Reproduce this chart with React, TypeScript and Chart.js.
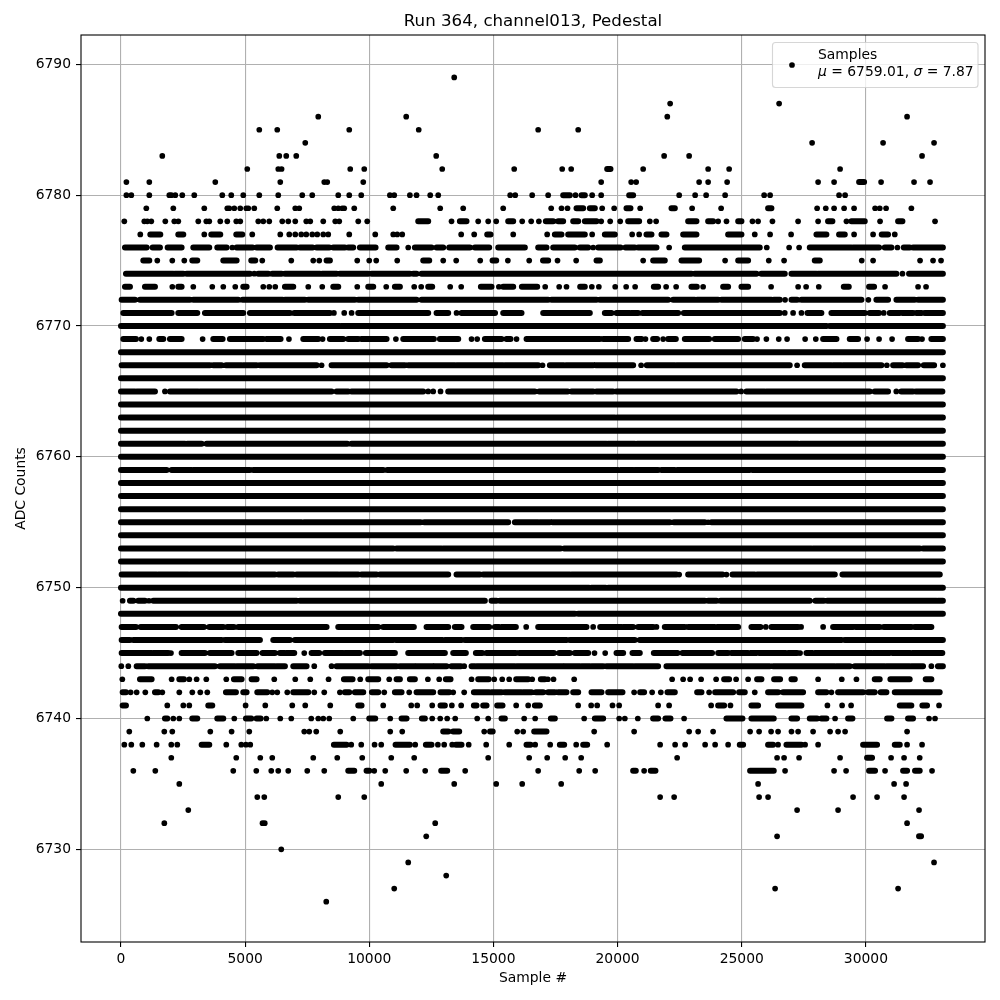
import React, { useEffect, useRef } from "react";
import { Chart, registerables } from "chart.js";

Chart.register(...registerables);

type Entry = number | [number, number];
const FULL: Entry[] = [[0, 33100]];

const xTicks = [0, 5000, 10000, 15000, 20000, 25000, 30000];
const yTicks = [6730, 6740, 6750, 6760, 6770, 6780, 6790];

const l6726: Entry[] = [8267];
const l6727: Entry[] = [11004, 26343, 31296];
const l6728: Entry[] = [13098];
const l6729: Entry[] = [11568, 32744];
const l6730: Entry[] = [6455];
const l6731: Entry[] = [12293, 26423, [32140, 32220]];
const l6732: Entry[] = [1745, 5700, 5790, 12655, 31658];
const l6733: Entry[] = [2711, 27229, 28879, 32140];
const l6734: Entry[] = [5489, 5771, 8750, 9797, 21713, 22277, 25699, 26060, 29483, 30449, 31537];
const l6735: Entry[] = [2349, 10481, 13420, 15111, 16158, 17728, 25658, 31135, 31618];
const l6736: Entry[] = [497, 1382, 4522, 5449, 6052, 6334, 6737, 7502, 8186, [9153, 9394], [9890, 9998], 10199, 10642, 11487, 12252, [12896, 13138], 13862, 16801, 18453, 19097, [20626, 20733], 21068, [21337, 21525], [25336, 26289], 26745, 28718, 29202, [30127, 30368], 30772, [31497, 31658], [31978, 32167], 32663];
const l6737: Entry[] = [2026, 4643, 5610, 6093, 7743, 8710, 9716, 10884, 11809, 14789, 16439, 17164, 17889, 18533, 22398, 26423, 26705, 27309, 28960, [30046, 30247], 31014, 31537, 32167];
const l6738: Entry[] = [134, 416, 859, 1436, 2026, 2268, [3248, 3556], 4241, 4845, 5032, 5207, [8575, 9085], 9273, 9676, 10213, 10481, [11058, 11635], 11850, [12279, 12507], 12762, 13017, 13339, [13487, 13715], 14004, 14708, 15635, [16332, 16493], 16681, 17285, [17674, 17849], 18332, [18614, 18775], 19580, 21713, 22317, 22720, 23525, 23928, 24451, [24920, 25055], [26060, 26262], 26463, [26800, 27403], 27551, 28075, [29887, 30449], [31162, 31363], 31658, 32261];
const l6739: Entry[] = [335, 1745, 2067, 3597, 4455, 5167, 7381, 7582, 7864, 8830, 10843, 11327, [12977, 13178], [13379, 13621], 14628, [14863, 14970], 15957, 16198, [16641, 17137], 19057, 20666, 22881, 23244, 23847, 25336, 25699, 26182, 26463, 27002, 27270, 27873, 28557, 28879, 29162, 31658];
const l6740: Entry[] = [1060, [1771, 1865], 2107, 2349, [2872, 3073], [3878, 4120], 4563, [5032, 5247], [5462, 5623], 5851, 6415, 6858, 7663, 7945, 8146, 8387, 9354, [9998, 10240], 10843, [11300, 11501], [12118, 12239], 12534, 12856, 13137, 13460, 14346, 14789, [15326, 15460], 16238, 16681, [17312, 17473], 18654, [19084, 19419], 20063, 20291, 20814, [21430, 21632], [21928, 22130], 22679, [24384, 25028], [25390, 26289], [27002, 27229], [27739, 28035], [28208, 28409], 28759, [29282, 29457], [30854, 31028], [31696, 31897], 32542, 32784];
const l6741: Entry[] = [[67, 201], 1865, 2510, 2751, [3516, 3677], 5019, 5811, 6898, 7421, 8428, [9555, 9689], 10561, 11689, 11930, 12534, [12869, 13044], 13325, 13701, [14212, 14319], [14587, 14722], [15151, 15366], 15916, 16399, [16668, 16869], 18412, 18936, 19178, 19795, 20063, 21632, 22075, 23767, [24049, 24290], 24545, [25390, 25658], [26463, 27403], 28450, 29041, 29404, [31363, 31830], [32274, 32462], 32945];
const l6742: Entry[] = [[67, 201], 389, 631, 980, [1369, 1503], 1664, 2349, 2872, 3194, 3476, [4227, 4630], [4925, 5059], [5489, 5891], 6093, 6294, 6697, [6938, 7542], 7784, 8186, 8817, [9018, 9193], [9421, 9757], [10105, 10360], 10602, [11031, 11300], 11608, [11903, 12574], [12869, 13218], 13379, 13822, [14212, 14829], [14923, 15326], [15460, 16131], [16198, 16533], [16708, 17003], [17204, 17473], [17607, 17942], [18211, 18413], [18949, 19352], [19620, 20197], 20666, [20908, 21068], 21391, 21740, [22008, 22304], [23203, 23378], 23686, [23928, 24652], [24893, 25122], 25524, [26060, 26463], [26665, 27470], [28075, 28409], 28611, [28879, 29887], [30086, 30355], [30596, 30826], [31162, 32972]];
const l6743: Entry[] = [54, [765, 1235], 2040, [2349, 2536], 2751, 3046, 3436, 4241, [4549, 4858], [5261, 5462], 6173, 7019, 7623, 8360, [8978, 9327], 9635, [9958, 10360], 10803, [11098, 11233], [11635, 11836], 12360, 12816, [13084, 13272], 14118, [14386, 14809], 15031, 15353, 15635, [15916, 16399], 16560, [16909, 17070], 17191, 17419, 18251, 22196, 22639, 22921, 23364, 23968, [24290, 24491], 24773, 25256, [25618, 25793], [26303, 26544], [27002, 27136], 28075, 29028, 29619, [30355, 30556], [30986, 31764], [32408, 32636]];
const l6744: Entry[] = [13, 295, [631, 966], [1100, 3785], [3986, 4590], [4657, 5328], [5502, 6200], [6267, 6603], [6938, 7475], 7784, 8481, [8683, 9958], [10092, 11098], [11233, 11836], [11877, 12574], [12601, 13111], [13312, 13688], 13822, [14118, 14252], [14319, 15863], [15930, 17808], [17849, 18479], [18546, 18882], [18949, 19419], [19553, 20626], [20693, 21632], [21968, 26128], [26262, 28745], [28813, 29350], [29551, 30759], [30826, 31764], [31831, 32301], 32636, [32900, 33100]];
const l6745: Entry[] = [[27, 1235], [1302, 1906], 2013, [2442, 3382], [3583, 4455], [4724, 5462], [5703, 6200], [6401, 6603], [6670, 6978], 7381, [7676, 7985], [8213, 8951], [9018, 9622], [9864, 11031], [11568, 13044], [13379, 13889], [14292, 14547], [14722, 15903], [16037, 17433], [17647, 18077], [18278, 18815], 19070, 19500, [19956, 20224], [20599, 20894], [21459, 22412], [22613, 23805], [24049, 24451], [24586, 25256], [25350, 25591], [25699, 26772], [26866, 27229], 27349, [27605, 27846], [27940, 30222], [30288, 30960], [31068, 31790], [31870, 33077]];
const l6746: Entry[] = [[27, 362], [497, 4053], [4187, 5596], [6133, 6804], [7005, 10964], [11071, 12950], [13044, 13715], [13849, 17943], [18077, 20693], [20894, 29014], [29148, 33100]];
const l6747: Entry[] = [[27, 604], [792, 2214], [2442, 3342], [3556, 4120], [4281, 4549], [4724, 8280], [8750, 10360], [10561, 11795], [12306, 13178], [13446, 13715], [14185, 14829], [15058, 15232], [15326, 15903], 16319, [16802, 18748], 19016, [19299, 20170], [20237, 20626], [20827, 21431], 21565, [21901, 22706], [22840, 23915], [24009, 24854], [25390, 25753], 25968, [26195, 27270], 27390, 28277, [28678, 29483], [29590, 30556], [30718, 31831], [31965, 32636]];
const l6748: Entry[] = [[0, 18278], [18412, 33100]];
const l6749: Entry[] = [67, [362, 497], [698, 966], 1127, [1302, 7073], [7207, 14654], [14922, 15124], [15259, 23512], [23646, 23982], [24143, 27739], [27967, 28307], [28441, 32840], [32906, 33100]];
const l6750: Entry[] = [[0, 18850], [18945, 19520], [19625, 33100]];
const l6751: Entry[] = [[27, 1436], [1503, 2711], [2778, 6200], [6334, 6938], [7072, 8750], [8817, 9555], [9689, 10293], [10428, 13178], [13513, 14453], [14587, 18077], [18144, 22371], 22479, [22841, 24224], 24384, [24626, 25522], [25616, 28747], [29055, 32975]];
const l6752: Entry[] = FULL;
const l6753: Entry[] = [[0, 10964], [11098, 12910], [12977, 17701], [17849, 27806], [27873, 32170], [32304, 33100]];
const l6754: Entry[] = FULL;
const l6755: Entry[] = [[0, 3422], [3476, 7274], [7368, 12065], [12212, 15594], [15863, 16802], [16869, 17272], [17380, 22103], [22264, 23512], 23646, [23780, 33100]];
const l6756: Entry[] = FULL;
const l6757: Entry[] = FULL;
const l6758: Entry[] = FULL;
const l6759: Entry[] = [[0, 1839], [2040, 2845], [2912, 5194], [5328, 10562], [10723, 20024], [20117, 20627], [20693, 21633], [21767, 22305], [22398, 25321], [25428, 33100]];
const l6760: Entry[] = FULL;
const l6761: Entry[] = [[0, 2577], [2670, 3248], [3449, 9112], [9286, 19553], [19620, 20694], [20787, 27269], [27363, 33100]];
const l6762: Entry[] = FULL;
const l6763: Entry[] = [[0, 19895], [19975, 33100]];
const l6764: Entry[] = FULL;
const l6765: Entry[] = [[0, 564], [631, 1369], 1771, [1973, 3113], [3180, 8481], [8683, 9152], [9286, 12172], 12373, 12574, 12869, [13178, 16668], [16842, 17990], [18144, 19017], [19151, 19816], [19949, 24788], 24976, [25187, 25924], [25990, 30153], [30355, 30892], 31224, [31425, 31895], [32009, 33080]];
const l6766: Entry[] = FULL;
const l6767: Entry[] = [[27, 3583], [3717, 4053], [4227, 4858], [4925, 5462], [5596, 7878], 8079, [8481, 10696], [10897, 11434], [11568, 13447], [13513, 15393], [15460, 16802], 16976, [17272, 17836], [17916, 19017], [19124, 20627], 20948, [21176, 22305], [22372, 26933], 27229, [27537, 28613], [28681, 29013], [29080, 30625], 30843, [31095, 31470], [31630, 32099], [32331, 32747], 33100];
const l6768: Entry[] = FULL;
const l6769: Entry[] = [[94, 604], 819, 1141, [1543, 1704], [1973, 2442], 3288, [3717, 4093], [4388, 5730], [5865, 6428], 6764, [7341, 7945], 8119, [8414, 8951], [9152, 9555], [9689, 10696], 11071, [11367, 12601], [12843, 13582], 14118, 14346, [14655, 15326], [15527, 15688], 15930, [16333, 19285], [19419, 20425], [20761, 20962], 21123, [21431, 21592], 21834, [22036, 22345], 22774, [22707, 23686], [23914, 24854], [25122, 25455], 25616, 25992, 26490, 26825, 27552, 27981, [28276, 28814], [29349, 29684], 30047, 30530, 31054, [31698, 32100], 32260, [32636, 33100]];
const l6770: Entry[] = [[0, 8817], [8884, 28410], [28544, 33100]];
const l6771: Entry[] = [[94, 2040], [2308, 3073], [3382, 4925], [5194, 6804], [6978, 8414], 8575, 8991, 9287, [9555, 12373], [12709, 13178], 13514, [13715, 15064], [15393, 16131], [17003, 18881], [19486, 19755], [19956, 20492], [20559, 20827], [21002, 22439], [22667, 26533], 26732, 27068, 27404, [27646, 28207], [28611, 29955], [30153, 30529], 30718, [30959, 31363], [31471, 31900], [32035, 32234], [32368, 33100]];
const l6772: Entry[] = [[27, 564], [765, 2778], [2912, 4724], [4898, 6509], [6603, 7408], [7542, 9421], [9555, 11903], [12105, 17204], [17338, 19151], [19285, 22036], [22237, 23109], [23203, 24049], [24184, 26195], [26289, 26533], 26745, [27002, 27229], [27404, 29820], 30100, [30422, 30892], [31229, 31965], [32100, 33100]];
const l6773: Entry[] = [[161, 362], [966, 1369], 2067, [2308, 2442], 2912, 3677, 4120, 4603, [4925, 5059], 5730, 5972, 6213, [6603, 6938], 7542, 8106, [8549, 8750], 9515, [9958, 10159], 10682, [11031, 11233], 11809, 12091, [12373, 12534], 13259, 13702, [14494, 14923], 15219, [15392, 15796], [16145, 16762], 17084, 17647, 17942, [18493, 18680], 18962, 19245, 19903, 20345, 20706, [21459, 21632], 21955, 22358, [22975, 23190], 23445, [24250, 24451], [24988, 25256], 26182, 27270, 27592, 28102, [29109, 29310], [30127, 30329], 30772, 32100, 32422];
const l6774: Entry[] = [[201, 2107], [2174, 2510], [2644, 5194], 5368, [5529, 5932], [6093, 6468], [6603, 8012], [8106, 8683], [8817, 9958], [10092, 11635], [11770, 11903], [12105, 22975], [23109, 25591], [25787, 26732], [27002, 28008], [28075, 31229], 31471, [31737, 33100]];
const l6775: Entry[] = [[899, 1141], 1463, 2067, 2550, [2872, 3073], [4120, 4657], [5247, 5408], 5690, 6858, 7743, 7985, [8280, 8414], 9515, 9998, 10280, 11125, [12172, 12414], 12977, 13500, 14467, [14964, 15112], 15581, 16440, [16996, 17204], 17580, 18332, [19151, 19285], 21029, [21432, 21901], [22573, 23283], 24330, [24856, 25256], 26088, 26705, [27940, 28142], 29832, 30289, 32181, 32704, 33026];
const l6776: Entry[] = [[161, 1033], [1275, 1570], [1879, 2442], [2912, 3556], [3878, 4254], 4482, [4657, 5301], [5462, 5999], [6307, 7072], [7206, 7716], [7877, 8387], [8549, 9018], [9152, 9353], [9622, 10253], [10763, 11098], 11568, [11836, 12507], [12709, 12977], [13219, 14051], [14252, 14829], [15192, 16265], [16802, 17137], [17406, 18278], [18480, 18815], 19016, [19218, 20117], [20318, 20693], [20827, 21566], 22076, [22707, 25725], 26007, 26908, 27310, [27739, 29417], [29483, 30530], [30758, 31027], 31269, [31524, 31764], [31898, 33100]];
const l6777: Entry[] = [778, [1181, 1584], [2308, 2510], 3355, [3637, 3999], [4643, 4885], 5287, 6415, 6777, 7019, 7260, 7462, 7703, 7904, 8146, 8347, 9193, 10240, 10964, 11125, 11327, 13701, 14225, [14749, 14883], 15796, 17164, [17473, 17741], [18009, 18680], 18976, [19486, 19889], 20586, 20868, [21163, 21365], [21767, 21968], [22640, 23176], [24451, 24988], 25524, 26141, 26987, [28008, 28409], [28919, 29149], 29524, 30289, [30637, 30892], 31162];
const l6778: Entry[] = [134, 939, 1060, 1221, 1785, 2147, 2308, 3113, 3436, 3556, 3999, 4281, 4643, 4804, 5529, 5730, 5972, 6495, 6737, 7019, 7462, 7623, 8146, 8629, 8790, 9555, 9917, [11971, 12373], 13312, [13648, 13916], 14386, 14789, 15111, [15594, 15796], 16158, 16520, 16829, [17110, 17406], [17607, 17808], [18211, 18413], [18681, 19151], 19339, 19701, 20104, [20425, 20868], 21298, 21552, [22841, 23176], [23646, 23847], 24049, 24385, [24856, 24988], 25431, 25658, 26236, 27269, 28075, [28475, 28651], 29216, [29417, 29954], 30570, [31296, 31471], 32784];
const l6779: Entry[] = [1020, 2107, 3355, 4281, 4361, 4563, 4804, 5046, 5127, 5368, 6294, 7019, 7180, 8589, 8750, 8911, 8991, 9394, 10964, 12856, 13782, 15393, 17325, 17741, 17983, [18345, 18614], [18882, 19084], 19379, 19862, [20358, 20519], 20909, [22170, 22305], 23002, 24169, [26061, 26195], 28035, 28384, 28719, 29122, 29524, 30370, 30557, 30813, 31831];
const l6780: Entry[] = [218, 416, 1141, 1946, 2027, 2187, 2469, 2952, 4080, 4442, 4925, 5570, 6334, 7300, 7703, 8750, 9193, 9676, 10830, 11004, 11635, 11903, 12454, 12776, 15675, 15877, 16560, 17204, [17808, 18077], 18305, [18547, 18681], 18976, 19339, [20466, 20626], 22480, 23123, 23566, 24331, 25902, 26142, 28919, 29162];
const l6781: Entry[] = [218, 1141, 3798, 6415, 8186, 8307, 9757, 19339, 20546, 20747, 23283, 23646, 24411, 28075, 28719, [29726, 29928], 30611, 31938, 32583];
const l6782: Entry[] = [5086, 6334, 6468, 9233, 9797, 12937, 15836, 17769, 18131, [19580, 19714], 21029, 23646, 24492, 28960];
const l6783: Entry[] = [1664, 6375, 6656, 7059, 12695, 21874, 22881, 32261];
const l6784: Entry[] = [7421, 27833, 30691, 32744];
const l6785: Entry[] = [5570, 6294, 9193, 11991, 16801, 18413];
const l6786: Entry[] = [7945, 11487, 22001, 31658];
const l6787: Entry[] = [22116, 26505];
const l6789: Entry[] = [13420];

const levels: [number, Entry[]][] = [
  [6726, l6726], [6727, l6727], [6728, l6728], [6729, l6729], [6730, l6730], [6731, l6731], [6732, l6732], [6733, l6733],
  [6734, l6734], [6735, l6735], [6736, l6736], [6737, l6737], [6738, l6738], [6739, l6739], [6740, l6740], [6741, l6741],
  [6742, l6742], [6743, l6743], [6744, l6744], [6745, l6745], [6746, l6746], [6747, l6747], [6748, l6748], [6749, l6749],
  [6750, l6750], [6751, l6751], [6752, l6752], [6753, l6753], [6754, l6754], [6755, l6755], [6756, l6756], [6757, l6757],
  [6758, l6758], [6759, l6759], [6760, l6760], [6761, l6761], [6762, l6762], [6763, l6763], [6764, l6764], [6765, l6765],
  [6766, l6766], [6767, l6767], [6768, l6768], [6769, l6769], [6770, l6770], [6771, l6771], [6772, l6772], [6773, l6773],
  [6774, l6774], [6775, l6775], [6776, l6776], [6777, l6777], [6778, l6778], [6779, l6779], [6780, l6780], [6781, l6781],
  [6782, l6782], [6783, l6783], [6784, l6784], [6785, l6785], [6786, l6786], [6787, l6787], [6789, l6789],
];

const chartTitle = "Run 364, channel013, Pedestal";
const xLabel = "Sample #";
const yLabel = "ADC Counts";

const FONT = "'DejaVu Sans'";

const framePlugin = {
  id: "frame",
  afterDraw(chart: any) {
    const { ctx, chartArea: a } = chart;
    ctx.save();
    ctx.strokeStyle = "#000";
    ctx.lineWidth = 1.1;
    ctx.strokeRect(a.left, a.top, a.right - a.left, a.bottom - a.top);

    ctx.beginPath();
    ctx.roundRect(772.5, 42.5, 205.5, 45, 3);
    ctx.fillStyle = "rgba(255,255,255,0.8)";
    ctx.fill();
    ctx.strokeStyle = "rgba(204,204,204,0.8)";
    ctx.lineWidth = 1.1;
    ctx.stroke();

    ctx.fillStyle = "#000";
    ctx.beginPath();
    ctx.arc(792, 65, 2.85, 0, Math.PI * 2);
    ctx.fill();

    ctx.textBaseline = "alphabetic";
    ctx.textAlign = "left";
    ctx.font = `13.89px ${FONT}`;
    ctx.fillText("Samples", 818, 59);
    let x = 818;
    const parts: [string, boolean][] = [
      ["\u03bc", true],
      [" = 6759.01, ", false],
      ["\u03c3", true],
      [" = 7.87", false],
    ];
    for (const [t, it] of parts) {
      ctx.font = `${it ? "italic " : ""}13.89px ${FONT}`;
      ctx.fillText(t, x, 76);
      x += ctx.measureText(t).width;
    }
    ctx.restore();
  },
};

export default function App() {
  const ref = useRef<HTMLCanvasElement>(null);
  useEffect(() => {
    const dots: { x: number; y: number }[] = [];
    const runs: { x: number; y: number | null }[] = [];
    for (const [y, row] of levels) {
      for (const e of row) {
        if (typeof e === "number") dots.push({ x: e, y });
        else {
          runs.push({ x: e[0], y }, { x: e[1], y }, { x: e[1], y: null });
        }
      }
    }
    const chart = new Chart(ref.current!, {
      type: "scatter",
      data: {
        datasets: [
          {
            label: "Samples",
            data: dots,
            backgroundColor: "#000",
            borderWidth: 0,
            pointRadius: 2.85,
            pointHoverRadius: 2.85,
          },
          {
            label: "Samples (merged)",
            data: runs as any,
            showLine: true,
            spanGaps: false,
            borderColor: "#000",
            borderWidth: 6,
            borderCapStyle: "round",
            pointRadius: 0,
            pointHoverRadius: 0,
          } as any,
        ],
      },
      options: {
        animation: false,
        responsive: false,
        layout: { padding: { right: 15 } },
        plugins: {
          legend: { display: false },
          tooltip: { enabled: false },
          title: {
            display: true,
            text: chartTitle,
            fullSize: false,
            color: "#000",
            font: { family: FONT, size: 16.67, weight: "normal" },
            padding: { top: 12, bottom: 3 },
          } as any,
        },
        scales: {
          x: {
            type: "linear",
            min: -1610,
            max: 34796,
            afterFit(s: any) {
              s.height = 58;
            },
            afterBuildTicks(s: any) {
              s.ticks = xTicks.map((value) => ({ value }));
            },
            title: {
              display: true,
              text: xLabel,
              color: "#000",
              font: { family: FONT, size: 13.89 },
              padding: { top: 4, bottom: 13 },
            },
            grid: { color: "#b0b0b0", lineWidth: 1.1, tickColor: "#000", tickLength: 5 },
            border: { display: false },
            ticks: {
              color: "#000",
              maxRotation: 0,
              autoSkip: false,
              padding: 4,
              font: { family: FONT, size: 13.89 },
              callback: (v: any) => String(v),
            },
          },
          y: {
            type: "linear",
            min: 6722.92,
            max: 6792.24,
            afterFit(s: any) {
              s.width = 81;
            },
            afterBuildTicks(s: any) {
              s.ticks = yTicks.map((value) => ({ value }));
            },
            title: {
              display: true,
              text: yLabel,
              color: "#000",
              font: { family: FONT, size: 13.89 },
              padding: { top: 13, bottom: 13 },
            },
            grid: { color: "#b0b0b0", lineWidth: 1.1, tickColor: "#000", tickLength: 5 },
            border: { display: false },
            ticks: {
              color: "#000",
              autoSkip: false,
              padding: 5,
              font: { family: FONT, size: 13.89 },
              callback: (v: any) => String(v),
            },
          },
        },
      } as any,
      plugins: [framePlugin],
    });
    return () => chart.destroy();
  }, []);
  return (
    <canvas
      ref={ref}
      width={1000}
      height={1000}
      style={{ position: "fixed", left: 0, top: 0, width: 1000, height: 1000, display: "block" }}
    />
  );
}
